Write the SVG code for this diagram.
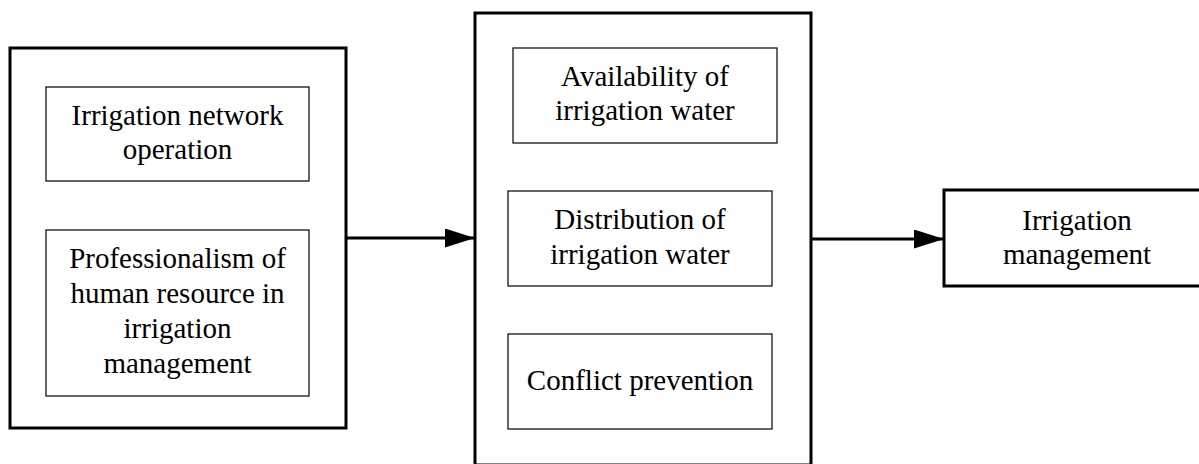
<svg xmlns="http://www.w3.org/2000/svg" width="1199" height="464" viewBox="0 0 1199 464">
<defs>
<style>
.outer{fill:#fff;stroke:#000;stroke-width:3}
.inner{fill:#fff;stroke:#000;stroke-width:1.2}
.conn{stroke:#000;stroke-width:3;fill:none}
text{font-family:"Liberation Serif","Times New Roman",serif;font-size:29px;fill:#000;text-anchor:middle}
</style>
<marker id="arr" markerUnits="userSpaceOnUse" markerWidth="32" markerHeight="20" refX="30" refY="9.5" orient="auto">
<path d="M0,0 L30,9.5 L0,19 Z" fill="#000"/>
</marker>
</defs>
<rect width="1199" height="464" fill="#fff"/>
<g id="left">
<rect class="outer" x="10" y="48" width="336" height="380"/>
<g id="n1">
<rect class="inner" x="46" y="87" width="263" height="94"/>
<text x="177.5" y="125">Irrigation network</text>
<text x="177.5" y="159">operation</text>
</g>
<g id="n2">
<rect class="inner" x="46" y="230" width="263" height="166"/>
<text x="177.5" y="268">Professionalism of</text>
<text x="177.5" y="303">human resource in</text>
<text x="177.5" y="338">irrigation</text>
<text x="177.5" y="373">management</text>
</g>
</g>
<g id="middle">
<rect class="outer" x="475" y="13" width="336" height="452"/>
<g id="n3">
<rect class="inner" x="513" y="48" width="264" height="95"/>
<text x="645" y="86">Availability of</text>
<text x="645" y="120">irrigation water</text>
</g>
<g id="n4">
<rect class="inner" x="508" y="191" width="264" height="95"/>
<text x="640" y="229">Distribution of</text>
<text x="640" y="264">irrigation water</text>
</g>
<g id="n5">
<rect class="inner" x="508" y="334" width="264" height="95"/>
<text x="640" y="390">Conflict prevention</text>
</g>
</g>
<g id="right">
<rect class="outer" x="944" y="190" width="270" height="96"/>
<text x="1077" y="230">Irrigation</text>
<text x="1077" y="264">management</text>
</g>
<g id="connectors">
<line class="conn" x1="346" y1="238" x2="475" y2="238" marker-end="url(#arr)"/>
<line class="conn" x1="811" y1="239" x2="944" y2="239" marker-end="url(#arr)"/>
</g>
</svg>
